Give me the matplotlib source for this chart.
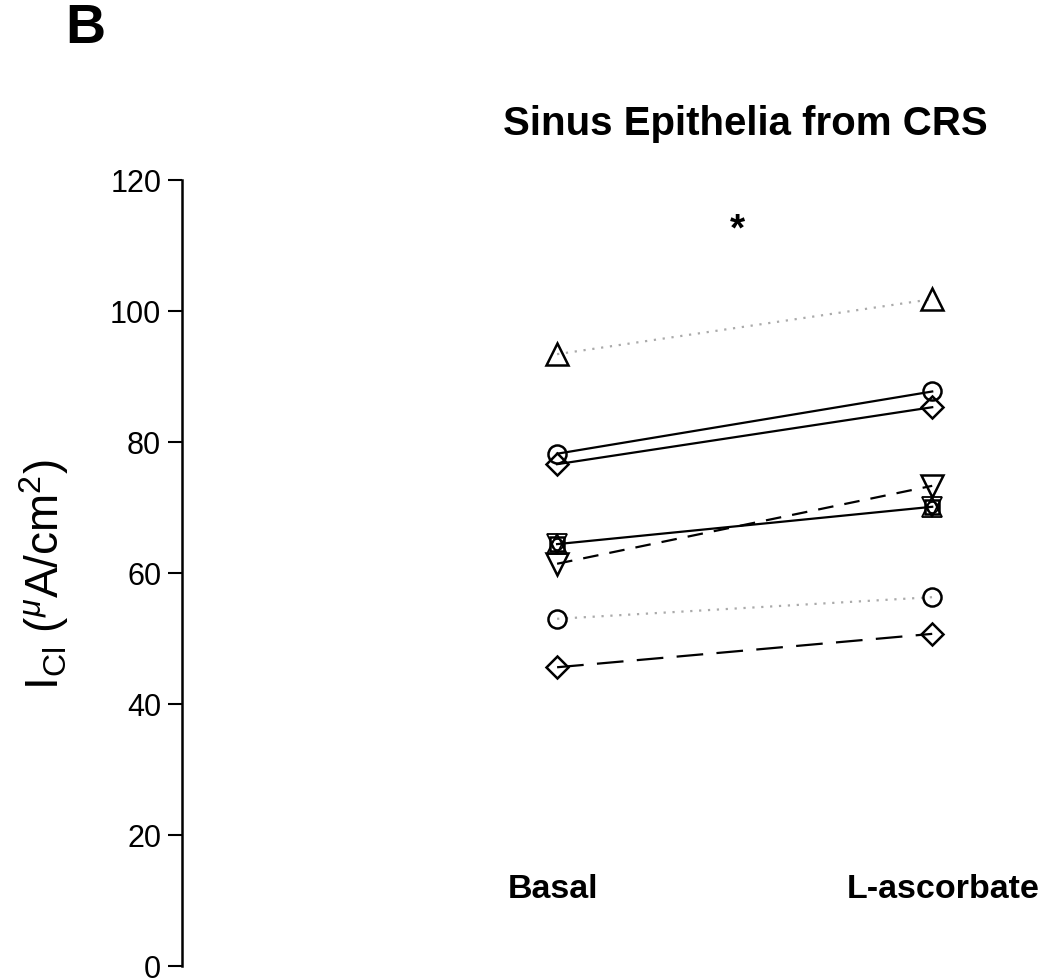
import numpy as np
import matplotlib
matplotlib.use("Agg")
import matplotlib.pyplot as plt

plt.rcParams['font.family'] = ['Liberation Sans', 'DejaVu Sans']
plt.rcParams['mathtext.fontset'] = 'custom'
plt.rcParams['mathtext.rm'] = 'Liberation Sans'
plt.rcParams['mathtext.it'] = 'Liberation Sans:italic'

# conditions (x positions 1 and 2)
conditions = ['Basal', 'L-ascorbate']
x_pos = [1, 2]

# paired I_Cl values (uA/cm2) for each sinus epithelium
basal = [93.4, 78.2, 76.6, 61.4, 64.4, 53.0, 45.6]
ascorbate = [101.8, 87.7, 85.3, 73.3, 70.1, 56.3, 50.7]
markers = ['^', 'o', 'D', 'v', 's', 'o', 'D']
styles = [(0, (1, 3)), '-', '-', (0, (7, 5)), '-', (0, (1, 3)), (0, (12, 6))]
line_colors = ['#aaaaaa', 'k', 'k', 'k', 'k', '#aaaaaa', 'k']
yticks = [0, 20, 40, 60, 80, 100, 120]

marker_size = {'^': 16, 'v': 16, 'o': 13, 'D': 11.5, 's': 10}

fig = plt.figure(figsize=(10.5, 9.79), dpi=100)
ax = fig.add_axes([0.1733, 0.0123, 0.8267, 0.8029])

for b, a, m, ls, c in zip(basal, ascorbate, markers, styles, line_colors):
    ax.plot(x_pos, [b, a], color=c, linestyle=ls, linewidth=1.6, zorder=1)
    ax.plot(x_pos, [b, a], linestyle='none', marker=m, markersize=marker_size[m],
            markerfacecolor='none', markeredgecolor='k', markeredgewidth=1.8, zorder=2)
    if m == 's':
        # overlapping subjects drawn on top of each other -> star-like symbol
        for extra, sz in (('^', 14), ('v', 14), ('o', 8)):
            ax.plot(x_pos, [b, a], linestyle='none', marker=extra, markersize=sz,
                    markerfacecolor='none', markeredgecolor='k', markeredgewidth=1.3, zorder=2)

ax.set_xlim(0, 2.314)
ax.set_ylim(0, 120)
ax.set_yticks(yticks)
ax.tick_params(axis='y', labelsize=22, length=10, width=1.5, direction='out', pad=5)
ax.set_xticks([])
for s in ['top', 'right', 'bottom']:
    ax.spines[s].set_visible(False)
ax.spines['left'].set_linewidth(1.8)

label_dx = [-0.01, 0.03]
for x, dx, lab in zip(x_pos, label_dx, conditions):
    ax.text(x + dx, 11.8, lab, ha='center', va='center', fontsize=24.5, fontweight='bold')

ax.text(1.48, 112.5, '*', ha='center', va='center', fontsize=28, fontweight='bold')

fig.text(0.71, 0.873, 'Sinus Epithelia from CRS', ha='center', va='center',
         fontsize=29, fontweight='bold')
fig.text(0.081, 0.956, 'B', ha='center', va='baseline', fontsize=40, fontweight='bold')
fig.text(0.042, 0.413, r'I$_{\mathrm{Cl}}$ ($^{\mu}$A/cm$^{2}$)', rotation=90,
         ha='center', va='center', fontsize=33)

plt.savefig('out.png', dpi=100)
